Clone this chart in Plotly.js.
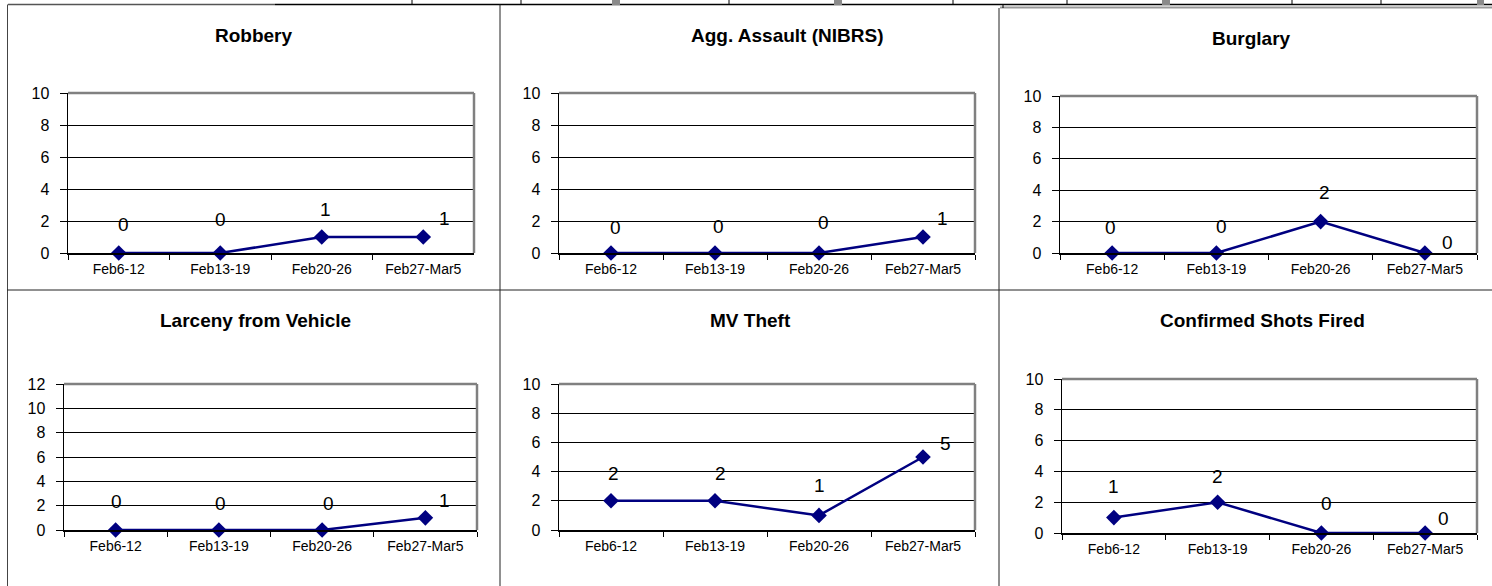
<!DOCTYPE html>
<html>
<head>
<meta charset="utf-8">
<script src="https://cdn.plot.ly/plotly-3.0.1.min.js"></script>
<style>
html,body{margin:0;padding:0;background:#fff;}
#chart{width:1492px;height:586px;}
</style>
</head>
<body>
<div id="chart"></div>
<script>
// ---- Data ----
const categories = ['Feb6-12', 'Feb13-19', 'Feb20-26', 'Feb27-Mar5'];
const robbery = [0, 0, 1, 1];
const aggAssault = [0, 0, 0, 1];
const burglary = [0, 0, 2, 0];
const larcenyFromVehicle = [0, 0, 0, 1];
const mvTheft = [2, 2, 1, 5];
const shotsFired = [1, 2, 0, 0];
const chartTitles = ['Robbery', 'Agg. Assault (NIBRS)', 'Burglary', 'Larceny from Vehicle', 'MV Theft', 'Confirmed Shots Fired'];
const yMaxValues = [10, 10, 10, 12, 10, 10];
const seriesList = [robbery, aggAssault, burglary, larcenyFromVehicle, mvTheft, shotsFired];

// ---- Layout (pixel geometry) ----
const W = 1492, H = 586;
const px = x => x / W;
const py = y => 1 - y / H;
const panels = [
  {l: 68,   r: 474,  t: 93,  b: 253, tx: 254,  ty: 35},
  {l: 559,  r: 975,  t: 93,  b: 253, tx: 787,  ty: 35},
  {l: 1060, r: 1477, t: 96,  b: 253, tx: 1251, ty: 39},
  {l: 64,   r: 477,  t: 384, b: 530, tx: 255,  ty: 320},
  {l: 559,  r: 975,  t: 384, b: 530, tx: 751,  ty: 320},
  {l: 1062, r: 1477, t: 379, b: 533, tx: 1262, ty: 320}
];
// data label pixel shifts [xshift, yshift]
const labelShifts = [
  [[5,29],[0,34],[4,28],[21,19]],
  [[4,26],[3,27],[4,31],[19,19]],
  [[-2,26],[5,27],[4,29],[23,11]],
  [[1,29],[2,27],[6,27],[19,17]],
  [[2,27],[5,27],[0,30],[22,14]],
  [[0,31],[0,26],[5,30],[18,15]]
];

const FONT = 'Liberation Sans, Arial, sans-serif';
const NAVY = '#000080';
const traces = [];
const annotations = [];
const shapes = [];
const layout = {
  width: W, height: H,
  margin: {l: 0, r: 0, t: 0, b: 0},
  paper_bgcolor: '#fff', plot_bgcolor: '#fff',
  showlegend: false,
  font: {family: FONT, color: '#000'}
};

panels.forEach((p, i) => {
  const n = i === 0 ? '' : String(i + 1);
  const xa = 'x' + n, ya = 'y' + n;
  const vals = seriesList[i];
  traces.push({
    type: 'scatter', mode: 'lines+markers',
    x: categories, y: vals, xaxis: xa, yaxis: ya,
    line: {color: NAVY, width: 2.5},
    marker: {symbol: 'diamond', size: 12, color: NAVY},
    cliponaxis: false, hoverinfo: 'skip'
  });
  layout['xaxis' + n] = {
    domain: [px(p.l), px(p.r)], anchor: ya,
    type: 'category', range: [-0.5, 3.5],
    showline: true, linecolor: '#000', linewidth: 1.5,
    ticks: 'outside', ticklen: 5, tickcolor: '#000', tickwidth: 1,
    tickson: 'boundaries', showgrid: false, zeroline: false,
    tickfont: {family: FONT, size: 14, color: '#000'},
    ticklabelstandoff: 3, fixedrange: true
  };
  layout['yaxis' + n] = {
    domain: [py(p.b), py(p.t)], anchor: xa,
    range: [0, yMaxValues[i]], dtick: 2, tick0: 0,
    showline: true, linecolor: '#000', linewidth: 1.5,
    ticks: 'outside', ticklen: 7, tickcolor: '#000', tickwidth: 1,
    showgrid: true, gridcolor: '#000', gridwidth: 1, zeroline: false,
    tickfont: {family: FONT, size: 16, color: '#000'},
    ticklabelstandoff: 7, fixedrange: true
  };
  // gray plot-area border (top and right)
  shapes.push({type: 'line', xref: xa + ' domain', yref: ya + ' domain', x0: 0, x1: 1, y0: 1, y1: 1, line: {color: '#808080', width: 2.5}, layer: 'above'});
  shapes.push({type: 'line', xref: xa + ' domain', yref: ya + ' domain', x0: 1, x1: 1, y0: 0, y1: 1, line: {color: '#808080', width: 2.5}, layer: 'above'});
  // title
  annotations.push({
    xref: 'paper', yref: 'paper', x: px(p.tx), y: py(p.ty),
    xanchor: 'center', yanchor: 'middle', showarrow: false,
    text: '<b>' + chartTitles[i] + '</b>',
    font: {family: FONT, size: 19, color: '#000'}
  });
  // data labels
  vals.forEach((v, k) => {
    annotations.push({
      xref: xa, yref: ya, x: categories[k], y: v,
      xshift: labelShifts[i][k][0], yshift: labelShifts[i][k][1],
      xanchor: 'center', yanchor: 'middle', showarrow: false,
      text: String(v),
      font: {family: FONT, size: 19, color: '#000'}
    });
  });
});

// ---- Page decoration: borders and top strip ----
function pline(x0, y0, x1, y1, color, width) {
  shapes.push({type: 'line', xref: 'paper', yref: 'paper', x0: px(x0), y0: py(y0), x1: px(x1), y1: py(y1), line: {color: color, width: width}, layer: 'below'});
}
function prect(x0, y0, x1, y1, color) {
  shapes.push({type: 'rect', xref: 'paper', yref: 'paper', x0: px(x0), y0: py(y0), x1: px(x1), y1: py(y1), line: {width: 0}, fillcolor: color, layer: 'below'});
}
pline(8, 4.5, 275, 4.5, '#555', 1.5);
pline(275, 4.5, 1492, 4.5, '#000', 1.5);
[412, 521, 729, 953, 1067, 1292, 1381].forEach(x => pline(x, 0, x, 4.5, '#000', 1));
[[612, 620], [834, 842], [1162, 1170], [1477, 1484]].forEach(r => prect(r[0], 0, r[1], 5, '#8a8a8a'));
pline(1000, 7.5, 1492, 7.5, '#999', 2);
pline(1003, 4.5, 1003, 8, '#000', 1);
pline(7.5, 4.5, 7.5, 586, '#444', 1);
pline(500, 4.5, 500, 586, '#222', 1);
pline(999, 8, 999, 586, '#222', 1);
pline(7, 290, 1492, 290, '#222', 1);

layout.shapes = shapes;
layout.annotations = annotations;

Plotly.newPlot('chart', traces, layout, {displayModeBar: false, staticPlot: true});
</script>
</body>
</html>
